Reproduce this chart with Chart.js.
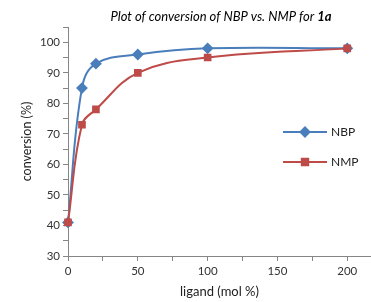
<!DOCTYPE html>
<html>
<head>
<meta charset="utf-8">
<script src="https://cdn.jsdelivr.net/npm/chart.js@4/dist/chart.umd.min.js"></script>
<style>
  html, body { margin: 0; padding: 0; background: #fff; }
  #wrap { width: 371px; height: 302px; position: relative; }
</style>
</head>
<body>
<div id="wrap"><canvas id="chart" width="371" height="302"></canvas></div>
<script>
// data
const ligand = [0, 10, 20, 50, 100, 200];
const nbp = [41, 85, 93, 96, 98, 98];
const nmp = [41, 73, 78, 90, 95, 98];
const seriesNames = ['NBP', 'NMP'];
const xLabels = [0, 50, 100, 150, 200];
const yLabels = [30, 40, 50, 60, 70, 80, 90, 100];

const blue = '#4A7EBB';
const red = '#BE4B48';
const axisGray = '#868686';
const font = 'Lato, "Open Sans", sans-serif';

const toPoints = (vals) => vals.map((v, i) => ({ x: ligand[i], y: v }));

// title, y axis title and in-plot legend
const extras = {
  id: 'extras',
  afterDraw(chart) {
    const ctx = chart.ctx;
    const area = chart.chartArea;
    ctx.save();
    // title, italic with bold "1a"
    const part1 = 'Plot of conversion of NBP vs. NMP for ';
    const part2 = '1a';
    ctx.textBaseline = 'middle';
    ctx.fillStyle = '#000';
    ctx.font = 'italic 13px ' + font;
    const w1 = ctx.measureText(part1).width;
    ctx.font = 'italic bold 13px ' + font;
    const w2 = ctx.measureText(part2).width;
    const startX = 221 - (w1 + w2) / 2;
    ctx.font = 'italic 13px ' + font;
    ctx.textAlign = 'left';
    ctx.fillText(part1, startX, 17);
    ctx.font = 'italic bold 13px ' + font;
    ctx.fillText(part2, startX + w1, 17);

    // y axis title
    ctx.save();
    ctx.translate(27, (area.top + area.bottom) / 2);
    ctx.rotate(-Math.PI / 2);
    ctx.textAlign = 'center';
    ctx.fillStyle = '#222';
    ctx.font = '12.5px ' + font;
    ctx.fillText('conversion (%)', 0, 0);
    ctx.restore();

    // legend
    const items = [
      { name: seriesNames[0], color: blue, style: 'rectRot', y: 132 },
      { name: seriesNames[1], color: red, style: 'rect', y: 162 }
    ];
    items.forEach(it => {
      ctx.strokeStyle = it.color;
      ctx.lineWidth = 2;
      ctx.beginPath();
      ctx.moveTo(283, it.y);
      ctx.lineTo(327, it.y);
      ctx.stroke();
      Chart.helpers.drawPoint(ctx, {
        pointStyle: it.style, radius: 4.5, borderWidth: 1
      }, 305, it.y);
      ctx.fillStyle = it.color;
      ctx.fill();
      ctx.fillStyle = '#222';
      ctx.font = '12px ' + font;
      ctx.textAlign = 'left';
      ctx.fillText(it.name, 331, it.y);
    });
    ctx.restore();
  }
};

new Chart(document.getElementById('chart'), {
  type: 'line',
  data: {
    datasets: [
      {
        label: seriesNames[0],
        data: toPoints(nbp),
        borderColor: blue,
        backgroundColor: blue,
        pointStyle: 'rectRot',
        pointRadius: 4.5,
        borderWidth: 2,
        tension: 0.4,
        clip: false,
        order: 1
      },
      {
        label: seriesNames[1],
        data: toPoints(nmp),
        borderColor: red,
        backgroundColor: red,
        pointStyle: 'rect',
        pointRadius: 4,
        borderWidth: 2,
        tension: 0.4,
        clip: false,
        order: 0
      }
    ]
  },
  options: {
    responsive: false,
    animation: false,
    layout: { autoPadding: false, padding: { top: 27, right: 0, left: 0, bottom: 0 } },
    plugins: {
      legend: { display: false },
      title: { display: false },
      tooltip: { enabled: false }
    },
    scales: {
      x: {
        type: 'linear',
        min: 0,
        max: 217,
        grid: { drawOnChartArea: false, drawTicks: true, tickLength: 5, color: axisGray },
        border: { color: axisGray, width: 1 },
        ticks: {
          stepSize: 25,
          includeBounds: false,
          padding: 3,
          color: '#333',
          font: { family: font, size: 11.5 },
          maxRotation: 0,
          autoSkip: false,
          callback: (v) => xLabels.includes(v) ? String(v) : ''
        },
        title: {
          display: true,
          text: 'ligand (mol %)',
          color: '#222',
          font: { family: font, size: 13 },
          padding: { top: 0, bottom: 2 }
        },
        afterFit: (s) => { s.height = 46; s.paddingRight = 0; s.paddingLeft = 0; }
      },
      y: {
        min: 30,
        max: 105,
        grid: { drawOnChartArea: false, drawTicks: true, tickLength: 5, color: axisGray },
        border: { color: axisGray, width: 1 },
        ticks: {
          stepSize: 5,
          padding: 3,
          color: '#333',
          font: { family: font, size: 11.5 },
          autoSkip: false,
          callback: (v) => yLabels.includes(v) ? String(v) : ''
        },
        afterFit: (s) => { s.width = 68; }
      }
    }
  },
  plugins: [extras]
});
</script>
</body>
</html>
